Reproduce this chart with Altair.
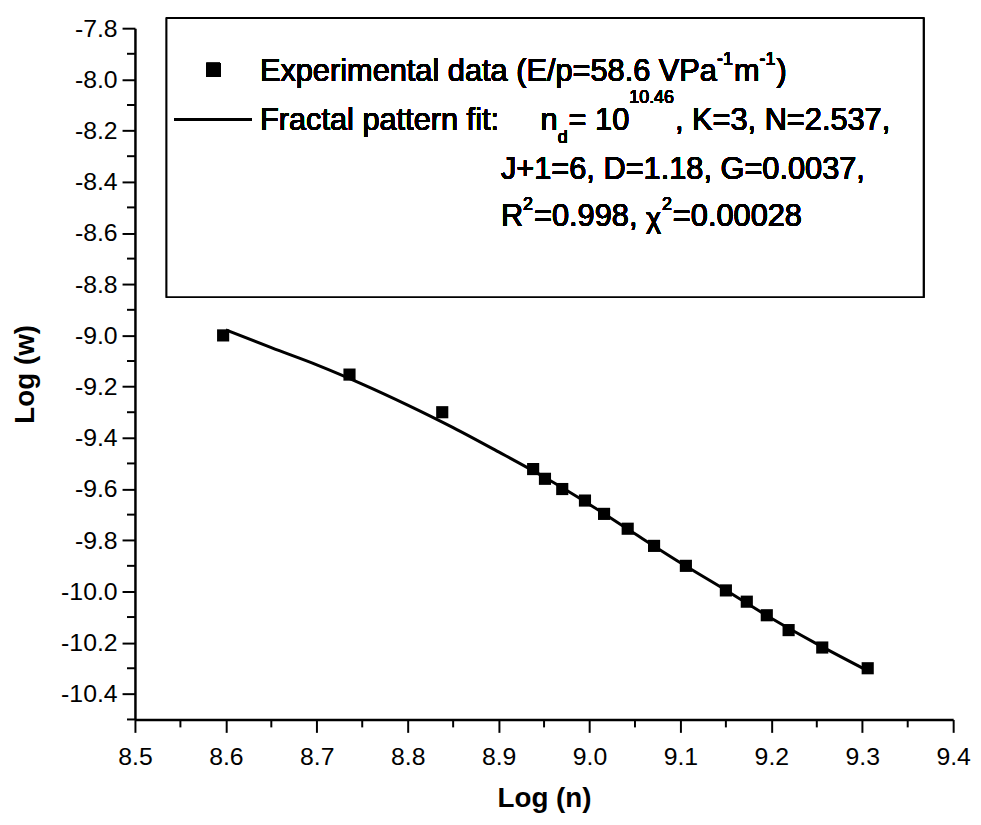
import altair as alt
import pandas as pd

log_n = [8.597, 8.736, 8.838, 8.938, 8.951, 8.970, 8.995, 9.016, 9.042, 9.071,
         9.106, 9.150, 9.173, 9.195, 9.219, 9.256, 9.306]
log_w = [-9.000, -9.153, -9.300, -9.522, -9.560, -9.600, -9.645, -9.697, -9.755, -9.822,
         -9.900, -9.996, -10.040, -10.093, -10.151, -10.219, -10.300]

# Fractal pattern fit curve
fit_n = [8.600, 8.650, 8.700, 8.750, 8.800, 8.850, 8.900, 8.950, 9.000, 9.050,
         9.100, 9.150, 9.200, 9.250, 9.306]
fit_w = [-8.978, -9.048, -9.115, -9.190, -9.272, -9.360, -9.455, -9.553, -9.660, -9.775,
         -9.888, -9.995, -10.105, -10.205, -10.310]

x_major = [8.5, 8.6, 8.7, 8.8, 8.9, 9.0, 9.1, 9.2, 9.3, 9.4]
x_minor = [8.55, 8.65, 8.75, 8.85, 8.95, 9.05, 9.15, 9.25, 9.35]
y_major = [-7.8, -8.0, -8.2, -8.4, -8.6, -8.8, -9.0, -9.2, -9.4, -9.6, -9.8,
           -10.0, -10.2, -10.4]
y_minor = [-7.9, -8.1, -8.3, -8.5, -8.7, -8.9, -9.1, -9.3, -9.5, -9.7, -9.9,
           -10.1, -10.3, -10.5]

x_title = "Log (n)"
y_title = "Log (w)"

# legend lines: list of (text, role) segments; role: main / sup / sup2 / sub / chi
legend_lines = [
    [("Experimental data (E/p=58.6 VPa", "main"), ("-1", "sup"), ("m", "main"),
     ("-1", "sup"), (")", "main")],
    [("Fractal pattern fit:", "main"), ("n", "main@409"), ("d", "sub"), ("= 10", "main"),
     ("10.46", "sup2"), (", K=3, N=2.537,", "main")],
    [("J+1=6, D=1.18, G=0.0037,", "main")],
    [("R", "main"), ("2", "sup"), ("=0.998, ", "main"), ("\u03c7", "chi"), ("2", "sup"),
     (" =0.00028", "main")],
]
# layout of legend (pixels inside the plot area)
line_start_x = [126, 126, 369, 369]
line_base_y = [53, 103, 152, 199]
MAIN, SMALL, CHI = 31, 18, 29
role_dy = {"main": 0, "sup": -16, "sup2": -28, "sub": 13, "chi": 2}
role_size = {"main": MAIN, "sup": SMALL, "sup2": SMALL, "sub": SMALL, "chi": CHI}

# Arial / Liberation Sans advance widths (1/1000 em)
ARIAL = {" ": 278, "(": 333, ")": 333, "+": 584, ",": 278, "-": 333, ".": 278, "/": 278,
         ":": 278, "=": 584, "D": 722, "E": 667, "F": 611, "G": 778, "J": 500, "K": 667,
         "N": 722, "P": 667, "R": 722, "V": 667, "a": 556, "c": 500, "d": 556, "e": 556,
         "f": 278, "i": 222, "l": 222, "m": 833, "n": 556, "p": 556, "r": 333, "t": 278,
         "x": 500, "\u03c7": 520}


def text_width(s, size):
    return sum(ARIAL.get(ch, 556) for ch in s) * size / 1000.0


W, H = 825, 697
FONT = "Liberation Sans"

pts = pd.DataFrame({"n": log_n, "w": log_w})
fit = pd.DataFrame({"n": fit_n, "w": fit_w})
xminor_df = pd.DataFrame({"n": x_minor})
yminor_df = pd.DataFrame({"w": y_minor})

xscale = alt.Scale(domain=[8.5, 9.4], nice=False, zero=False)
yscale = alt.Scale(domain=[-10.5, -7.8], nice=False, zero=False)

lab_expr = "(datum.value < 0 ? '-' : '') + format(abs(datum.value), '.1f')"
x_axis = alt.Axis(values=x_major, labelExpr=lab_expr, tickSize=13, title=x_title,
                  titleY=66, labelPadding=12, grid=False)
y_axis = alt.Axis(values=y_major, labelExpr=lab_expr, tickSize=13, title=y_title,
                  titleX=-96, labelPadding=5, grid=False)

line = alt.Chart(fit).mark_line(color="black", strokeWidth=3, interpolate="monotone").encode(
    x=alt.X("n:Q", scale=xscale, axis=x_axis),
    y=alt.Y("w:Q", scale=yscale, axis=y_axis),
)
squares = alt.Chart(pts).mark_square(color="black", size=150, opacity=1).encode(
    x=alt.X("n:Q", scale=xscale),
    y=alt.Y("w:Q", scale=yscale),
)

# minor ticks
xminor = alt.Chart(xminor_df).mark_rule(color="black", strokeWidth=2).encode(
    x=alt.X("n:Q", scale=xscale), y=alt.value(H), y2=alt.value(H + 8)
)
yminor = alt.Chart(yminor_df).mark_rule(color="black", strokeWidth=2).encode(
    y=alt.Y("w:Q", scale=yscale), x=alt.value(-8), x2=alt.value(0)
)

box = alt.Chart(pts).mark_rect(fill="white", stroke="black", strokeWidth=1.5).encode(
    x=alt.value(32), x2=alt.value(795), y=alt.value(-10), y2=alt.value(271)
)
leg_sq = alt.Chart(pts).mark_square(color="black", size=196, opacity=1).encode(
    x=alt.value(79), y=alt.value(42)
)
leg_line = alt.Chart(pts).mark_rule(color="black", strokeWidth=3).encode(
    x=alt.value(40), x2=alt.value(118), y=alt.value(92)
)

texts = []
for segs, x0, y0 in zip(legend_lines, line_start_x, line_base_y):
    cx = x0
    for t, role in segs:
        if "@" in role:
            role, at = role.split("@")
            cx = float(at)
        fs = role_size[role]
        texts.append(
            alt.Chart(pts).mark_text(
                text=t, align="left", baseline="alphabetic", font=FONT, fontSize=fs,
                color="black"
            ).encode(x=alt.value(cx), y=alt.value(y0 + role_dy[role]))
        )
        cx += text_width(t, fs) + (1 if role != "main" else 0)

chart = alt.layer(box, leg_sq, leg_line, *texts, xminor, yminor, line, squares).properties(
    width=W, height=H,
    autosize=alt.AutoSizeParams(type="none"),
    padding={"left": 128, "top": 17, "right": 20, "bottom": 95},
).configure_view(stroke=None).configure_axis(
    domainColor="black", domainWidth=2.5, tickColor="black", tickWidth=2,
    labelFont=FONT, labelFontSize=25, labelColor="black",
    titleFont=FONT, titleFontSize=28, titleFontWeight="bold", titleColor="black",
    labelFlush=False, labelOverlap=False,
)

chart.save("out.html", embed_options={"renderer": "svg", "actions": False})
